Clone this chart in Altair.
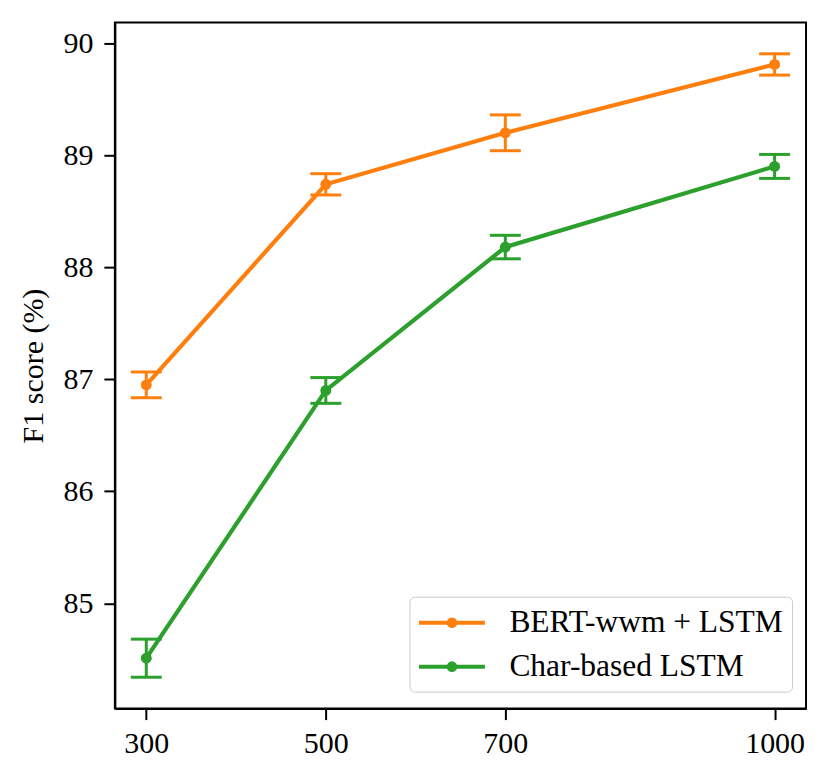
import altair as alt
import pandas as pd

sizes = [300, 500, 700, 1000]
series_names = ["BERT-wwm + LSTM", "Char-based LSTM"]
bert_f1 = [86.95, 88.74, 89.20, 89.81]
bert_err = [0.115, 0.095, 0.16, 0.095]
char_f1 = [84.51, 86.90, 88.18, 88.90]
char_err = [0.17, 0.115, 0.105, 0.107]
colors = ["#ff7f0e", "#2ca02c"]
x_ticks = [300, 500, 700, 1000]
y_ticks = [85, 86, 87, 88, 89, 90]

rows = []
for name, vals, errs in [(series_names[0], bert_f1, bert_err),
                         (series_names[1], char_f1, char_err)]:
    for s, v, e in zip(sizes, vals, errs):
        rows.append({"size": s, "series": name, "f1": v, "lo": v - e, "hi": v + e})
df = pd.DataFrame(rows)

FONT = "Liberation Serif"

x_axis = alt.Axis(values=x_ticks, title=None, labelPadding=9, format="d")
y_axis = alt.Axis(values=y_ticks, title="F1 score (%)", labelPadding=11,
                  titleX=-72, titleY=343.5, titleBaseline="alphabetic", format="d")
x_scale = alt.Scale(domain=[265, 1035], nice=False, zero=False)
y_scale = alt.Scale(domain=[84.06, 90.185], nice=False, zero=False)

X = alt.X("size:Q", scale=x_scale, axis=x_axis)

legend_symbol = (
    "M-1.1,0L3.3,0"
    "M0.88,0A0.22,0.22 0 1,0 1.32,0A0.22,0.22 0 1,0 0.88,0Z"
    "M1.01,0A0.09,0.09 0 1,0 1.19,0A0.09,0.09 0 1,0 1.01,0Z"
)
legend = alt.Legend(
    title=None, orient="none", legendX=295, legendY=575,
    symbolType=legend_symbol,
    symbolSize=225 * 4, symbolStrokeWidth=4, symbolOpacity=1,
    labelFont=FONT, labelFontSize=31.5, labelColor="black", labelOffset=57,
    labelLimit=400,
    padding=9, rowPadding=11, strokeColor="#cccccc", cornerRadius=5,
    fillColor="white",
)
ser_scale = alt.Scale(domain=series_names, range=colors)

base = alt.Chart(df)

rules = base.mark_rule(strokeWidth=3).encode(
    x=X,
    y=alt.Y("lo:Q", scale=y_scale, axis=y_axis),
    y2="hi:Q",
    color=alt.Color("series:N", scale=ser_scale, legend=None),
)
cap_lo = base.mark_tick(orient="horizontal", size=31, thickness=3, opacity=1).encode(
    x=X,
    y=alt.Y("lo:Q", scale=y_scale, axis=y_axis),
    color=alt.Color("series:N", scale=ser_scale, legend=None),
)
cap_hi = base.mark_tick(orient="horizontal", size=31, thickness=3, opacity=1).encode(
    x=X,
    y=alt.Y("hi:Q", scale=y_scale, axis=y_axis),
    color=alt.Color("series:N", scale=ser_scale, legend=None),
)
line = base.mark_line(strokeWidth=4.2).encode(
    x=X,
    y=alt.Y("f1:Q", scale=y_scale, axis=y_axis),
    stroke=alt.Stroke("series:N", scale=ser_scale, legend=legend),
)
points = base.mark_point(filled=True, size=120, opacity=1).encode(
    x=X,
    y=alt.Y("f1:Q", scale=y_scale, axis=y_axis),
    color=alt.Color("series:N", scale=ser_scale, legend=None),
)

chart = alt.layer(line, rules, cap_lo, cap_hi, points).properties(
    width=692, height=687,
    autosize=alt.AutoSizeParams(type="none"),
    padding={"left": 107, "top": 14, "right": 15, "bottom": 60},
).configure_view(
    stroke="black", strokeWidth=2
).configure_axis(
    domainColor="black", domainWidth=2, tickColor="black", tickWidth=2,
    tickSize=11, labelFont=FONT, labelFontSize=30, labelColor="black",
    titleFont=FONT, titleFontSize=30, titleColor="black",
    titleFontWeight="normal", grid=False,
)

chart.save("out.html", embed_options={"renderer": "svg", "actions": False})
